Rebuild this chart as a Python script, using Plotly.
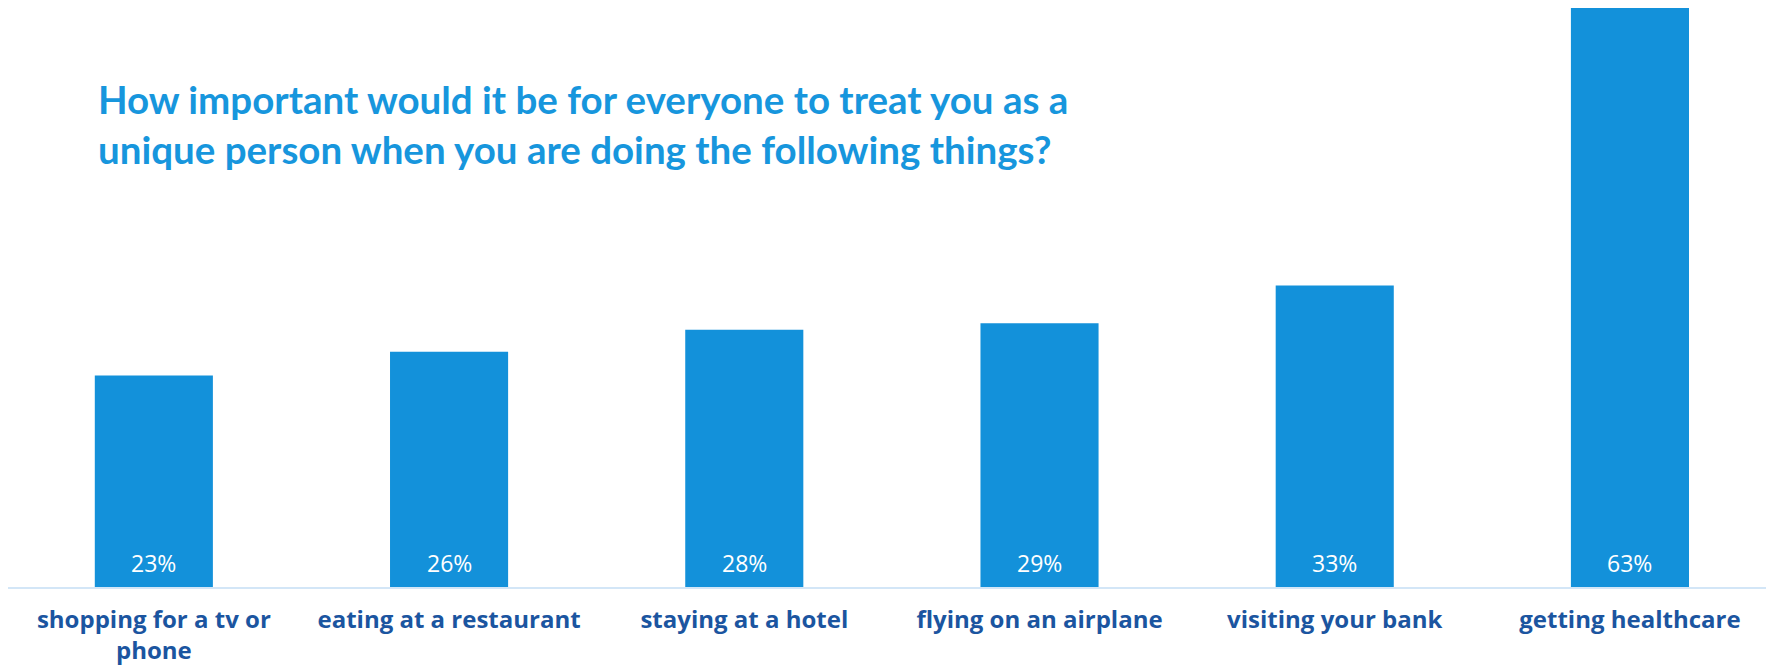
import plotly.graph_objects as go

categories = ["shopping for a tv or<br>phone", "eating at a restaurant", "staying at a hotel",
              "flying on an airplane", "visiting your bank", "getting healthcare"]
values = [23.0, 25.6, 28.0, 28.7, 32.8, 63.0]
value_labels = ["23%", "26%", "28%", "29%", "33%", "63%"]

title_text = ("How important would it be for everyone to treat you as a<br>"
              "unique person when you are doing the following things?")

BAR = "#1391DA"
TITLE = "#1796DD"
TICK = "#1B55A0"

fig = go.Figure(go.Bar(
    x=categories, y=values,
    marker=dict(color=BAR, line=dict(width=0)),
    hoverinfo="skip",
))

for cat, lab in zip(categories, value_labels):
    fig.add_annotation(x=cat, y=0, text=lab, showarrow=False,
                       yanchor="middle", yshift=24,
                       font=dict(family="Open Sans", size=23, color="white"))

fig.update_layout(
    width=1774, height=665,
    margin=dict(l=0, r=0, t=0, b=86),
    paper_bgcolor="white", plot_bgcolor="white",
    bargap=0.6, showlegend=False,
    title=dict(text=title_text, xref="container", yref="container",
               x=90/1774, xanchor="left", y=1-106/665, yanchor="top",
               font=dict(family="Lato", size=38.5, color=TITLE, weight="bold")),
)
fig.update_xaxes(
    range=[-0.494, 5.515], showgrid=False, zeroline=False,
    showline=True, linecolor="#D3E6F7", linewidth=2,
    ticks="", ticklabelstandoff=10,
    tickfont=dict(family="Open Sans", size=24, color=TICK, weight="bold"),
)
fig.update_yaxes(range=[0, 63], visible=False, showgrid=False, zeroline=False)

fig.write_html("out.html")
